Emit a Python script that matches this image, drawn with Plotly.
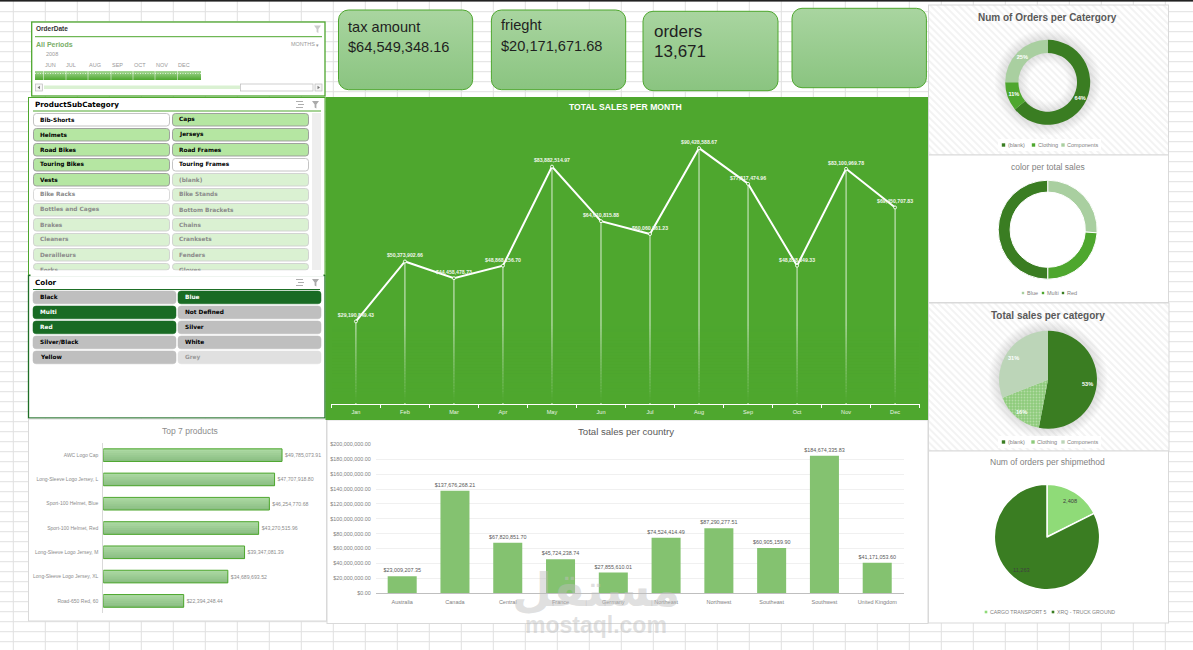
import base64
import plotly.graph_objects as go

W, H = 1193, 650

months = ["Jan","Feb","Mar","Apr","May","Jun","Jul","Aug","Sep","Oct","Nov","Dec"]
month_sales = [29190849.43,50373902.66,44458478.73,48868156.70,83882514.97,64610815.88,
               60060861.23,90428588.67,77817474.96,48858849.33,83100969.78,69450707.83]
products = ["AWC Logo Cap","Long-Sleeve Logo Jersey, L","Sport-100 Helmet, Blue","Sport-100 Helmet, Red",
            "Long-Sleeve Logo Jersey, M","Long-Sleeve Logo Jersey, XL","Road-650 Red, 60"]
product_sales = [49785073.91,47707918.80,46254770.68,43270515.96,39347081.39,34689693.52,22394248.44]
countries = ["Australia","Canada","Central","France","Germany","Northeast","Northwest","Southeast","Southwest","United Kingdom"]
country_sales = [23009207.35,137676268.21,67820851.70,45724238.74,27855610.01,74524414.49,87290277.51,60905159.90,184674335.83,41171053.60]
categories = ["(blank)","Clothing","Components"]
orders_by_cat = [64,11,25]
sales_by_cat = [53,16,31]
colors_names = ["Blue","Multi","Red"]
color_sales = [26,24,50]
ship_methods = ["CARGO TRANSPORT 5","XRQ - TRUCK GROUND"]
ship_orders = [2408,11263]
cards = [("tax amount","$64,549,348.16"),("frieght","$20,171,671.68"),("orders","13,671")]
subcats = ["Bib-Shorts","Caps","Helmets","Jerseys","Road Bikes","Road Frames","Touring Bikes","Touring Frames",
           "Vests","(blank)","Bike Racks","Bike Stands","Bottles and Cages","Bottom Brackets","Brakes","Chains",
           "Cleaners","Cranksets","Derailleurs","Fenders","Forks","Gloves"]
subcat_state = ["w","s","s","s","s","s","s","w","s","d","g","d","d","d","d","d","d","d","d","d","d","d"]
color_slicer = ["Black","Blue","Multi","Not Defined","Red","Silver","Silver/Black","White","Yellow","Grey"]
color_state = ["n","s","s","n","s","n","n","n","n","d"]
timeline_months = ["JUN","JUL","AUG","SEP","OCT","NOV","DEC"]

GREEN = "#4EA72E"; DARK = "#3A7D22"; PALE = "#A9CFA0"
def fx(x): return x / W
def fy(y): return 1 - y / H

# ------ backdrop: sheet grid, panels, gradient cards, hatching, shadows
grid = "".join(f"M{13.3+32*k} 0V{H}" for k in range(37)) + "".join(f"M0 {11.7+10*k}H{W}" for k in range(64))
def panel(x0,y0,x1,y1,fill="#fff",stroke="#D9D9D9",sw=1):
    return f'<rect x="{x0}" y="{y0}" width="{x1-x0}" height="{y1-y0}" fill="{fill}" stroke="{stroke}" stroke-width="{sw}"/>'
def halo(cx,cy,r0,r1,gid):
    rr_ = r1 + 11
    a, b = r0/rr_, r1/rr_
    inner = f'<stop offset="{max(a-0.2,0):.3f}" stop-color="#999" stop-opacity="0"/>' if r0 else '<stop offset="0" stop-color="#999" stop-opacity=".3"/>'
    return (f'<defs><radialGradient id="{gid}">{inner}<stop offset="{a:.3f}" stop-color="#999" stop-opacity=".3"/>'
            f'<stop offset="{b:.3f}" stop-color="#999" stop-opacity=".3"/><stop offset="1" stop-color="#999" stop-opacity="0"/></radialGradient></defs>'
            f'<circle cx="{cx}" cy="{cy}" r="{rr_}" fill="url(#{gid})"/>')
svg = [f'<svg xmlns="http://www.w3.org/2000/svg" width="{W}" height="{H}" viewBox="0 0 {W} {H}">',
       '<defs><linearGradient id="card" x1="0" y1="0" x2="0" y2="1"><stop offset="0" stop-color="#A9D5A0"/><stop offset="1" stop-color="#8AC480"/></linearGradient>',
       '<linearGradient id="tl" x1="0" y1="0" x2="0" y2="1"><stop offset="0" stop-color="#A5D795"/><stop offset="1" stop-color="#4EA72E"/></linearGradient>',
       '<pattern id="hatch" width="5" height="5" patternUnits="userSpaceOnUse" patternTransform="rotate(45)"><rect width="5" height="5" fill="#fff"/><rect width="5" height="2" fill="#F3F3F3"/></pattern></defs>',
       f'<rect width="{W}" height="{H}" fill="#fff"/>',
       f'<path d="{grid}" stroke="#E0E0E0" stroke-width="1" fill="none"/>',
       f'<rect width="{W}" height="1.6" fill="#222"/>']
svg.append(panel(31.7,22,325,96,stroke=GREEN,sw=1.3))
svg.append(panel(28.5,97.5,325,275,stroke=GREEN,sw=1))
svg.append(panel(28.5,275.5,325,418,stroke="#1E6F26",sw=1.3))
svg.append(panel(28.5,419,326.5,621))
svg.append(panel(327,420,928,623.5))
svg.append(f'<rect x="325.5" y="97" width="603" height="323" fill="{GREEN}"/>')
svg.append(panel(928.5,5,1168.5,155,fill="url(#hatch)"))
svg.append(panel(928.5,155,1168.5,302.5))
svg.append(panel(928.5,303,1169,451,fill="url(#hatch)"))
svg.append(panel(928.5,451,1168.5,623))
svg.append(halo(1047.7,82.3,29.5,42.5,"h1"))
svg.append(halo(1048,379.7,0,49,"h2"))
svg.append('<rect x="998" y="139" width="103" height="12" fill="#fff"/><rect x="998" y="436" width="103" height="12" fill="#fff"/>')
for (x0,y0,x1,y1) in [(338.5,10,472.7,89.7),(491.4,10,625.7,89.7),(643,11.3,778,90.7),(792,8.3,926.4,87.7)]:
    svg.append(f'<rect x="{x0}" y="{y0}" width="{x1-x0}" height="{y1-y0}" rx="10" fill="url(#card)" stroke="{GREEN}" stroke-width="1"/>')
# timeline header and bar
svg.append(f'<path d="M35 36.7H322" stroke="{GREEN}" stroke-width="1"/>')
svg.append('<rect x="35" y="71" width="166" height="9" fill="url(#tl)"/>')
svg.append('<path d="M35 73.5H201" stroke="#fff" stroke-width=".7" stroke-dasharray="1 1.5" fill="none"/>')
svg.append('<path d="M43.5 71V80M66 71V80M88 71V80M111 71V80M133 71V80M155 71V80M177.5 71V80" stroke="#fff" stroke-width=".5"/>')
svg.append('<rect x="44" y="85.5" width="196" height="3.5" fill="#DAF1D2"/>')
svg.append('<rect x="240.5" y="84" width="72.5" height="7" fill="#fff" stroke="#BBB" stroke-width=".7"/>')
svg.append('<rect x="35.5" y="84" width="7" height="7" fill="#F5F5F5" stroke="#BBB" stroke-width=".7"/><rect x="315" y="84" width="7" height="7" fill="#F5F5F5" stroke="#BBB" stroke-width=".7"/>')
svg.append('<path d="M40 85.8L37.5 87.5L40 89.2Z M317.5 85.8L320 87.5L317.5 89.2Z" fill="#777"/>')
# slicer header rules, scrollbar and header icons
svg.append(f'<path d="M33 111H321" stroke="{GREEN}" stroke-width="1"/><path d="M33 289.5H320" stroke="#1E6F26" stroke-width="1"/>')
svg.append('<rect x="312" y="113" width="9" height="157" fill="#EEE"/>')
for ty in (104.5, 282.5):
    svg.append(f'<path d="M296 {ty-3}h7M298 {ty}h6M296 {ty+3}h7" stroke="#999" stroke-width=".8" fill="none"/>')
    svg.append(f'<path d="M312 {ty-3.5}h7l-2.6 3.5v4l-1.8-1v-3Z" fill="#AAA"/>')
svg.append('<path d="M314 25.5h7l-2.6 3.5v4l-1.8-1v-3Z" fill="#CCC"/>')
svg.append('</svg>')
backdrop = "data:image/svg+xml;base64," + base64.b64encode("".join(svg).encode()).decode()

shapes, notes = [], []
def txt(x,y,s,size,color="#000",anchor="left",bold=False,font="Liberation Sans"):
    t = f"<b>{s}</b>" if bold else s
    notes.append(dict(xref="paper",yref="paper",x=fx(x),y=fy(y),text=t,showarrow=False,xanchor=anchor,yanchor="middle",
                      borderpad=0,font=dict(family=font,size=size,color=color)))
def rr(x0,y0,x1,y1,r,fill,line=None,lw=1,layer="below"):
    X0,X1,Y0,Y1,rx,ry = fx(x0),fx(x1),fy(y0),fy(y1),r/W,r/H
    p = (f"M{X0+rx} {Y0}L{X1-rx} {Y0}Q{X1} {Y0} {X1} {Y0-ry}L{X1} {Y1+ry}Q{X1} {Y1} {X1-rx} {Y1}"
         f"L{X0+rx} {Y1}Q{X0} {Y1} {X0} {Y1+ry}L{X0} {Y0-ry}Q{X0} {Y0} {X0+rx} {Y0}Z")
    shapes.append(dict(type="path",xref="paper",yref="paper",path=p,fillcolor=fill,layer=layer,
                       line=dict(color=line or fill,width=lw)))
def swatch(x,y,color,s=3.4):
    shapes.append(dict(type="rect",xref="paper",yref="paper",x0=fx(x-s/2),x1=fx(x+s/2),y0=fy(y+s/2),y1=fy(y-s/2),
                       fillcolor=color,line=dict(width=0),layer="above"))

# cards
tops = [(347,27,47,14.6),(500,25.5,45.5,14.6),(652.5,31,52,17)]
for (lab,val),(x,y1,y2,sz) in zip(cards,tops):
    txt(x,y1,lab,sz,"#1f1f1f"); txt(x,y2,val,sz,"#1f1f1f")

# timeline texts
txt(35,28,"OrderDate",6.5,"#333",bold=True)
txt(35,44,"All Periods",7,"#79AE68",bold=True)
txt(290,44,"MONTHS",5.5,"#999"); txt(315,44.5,"▾",5,"#999")
txt(45,54,"2008",5.5,"#999")
for m,x in zip(timeline_months,[50,71,95,117,140,162,184]):
    txt(x,65,m,5.5,"#999",anchor="center")

# ProductSubCategory slicer
SL = "DejaVu Sans"
txt(34,104.7,"ProductSubCategory",7.2,"#000",bold=True,font=SL)
style = {"s":("#B5E6A2","#999999","#000"),"w":("#FFFFFF","#BDBDBD","#000"),"g":("#FFFFFF","#D5D5D5","#8a8a8a"),"d":("#DAF1D2","#CFCFCF","#8a8a8a")}
for i,(name,st) in enumerate(zip(subcats,subcat_state)):
    col,row = i%2,i//2
    x0 = 33.5 if col==0 else 172.5
    y0 = 113.5+15*row
    f,l,c = style[st]
    rr(x0,y0,x0+136,min(y0+12.5,270),3,f,l,0.9)
    txt(x0+5.2,y0+6,name,5.8,c,bold=True,font=SL)
notes.append(dict(xref="paper",yref="paper",x=fx(30),y=fy(270.3),xanchor="left",yanchor="top",text=" ",showarrow=False,
                  width=292,height=4.6,bgcolor="#fff",borderpad=0,font=dict(size=1)))

# Color slicer
txt(34,282.7,"Color",7.2,"#000",bold=True,font=SL)
cstyle = {"n":("#BFBFBF","#000"),"s":("#196B24","#fff"),"d":("#E0E0E0","#999")}
for i,(name,st) in enumerate(zip(color_slicer,color_state)):
    col,row = i%2,i//2
    x0 = 33 if col==0 else 178
    y0 = 291+15*row
    f,c = cstyle[st]
    rr(x0,y0,x0+143,y0+12.8,3,f,f,0.5)
    txt(x0+5.7,y0+6.4,name,5.8,c,bold=True,font=SL)

# titles
txt(625,107.3,"TOTAL SALES PER MONTH",8.6,"#fff","center",True)
txt(189.6,431.3,"Top 7 products",8.5,"#8c8c8c","center")
txt(626.5,431.5,"Total sales per country",9.6,"#595959","center")
txt(1047.7,17,"Num of Orders per Catergory",10,"#595959","center",True)
txt(1047.7,166.7,"color per total sales",8.5,"#7f7f7f","center")
txt(1048,315.3,"Total sales per category",10,"#595959","center",True)
txt(1047,462,"Num of orders per shipmethod",8.5,"#7f7f7f","center")

# pie labels placed as in the workbook chart
for v,(x,y) in zip(sales_by_cat,[(1087.7,384),(1021.7,412),(1014,358)]):
    txt(x,y,f"{v}%",5.6,"#fff","center",True)
for v,(x,y) in zip(ship_orders,[(1070,501),(1021.7,570)]):
    txt(x,y,f"{v:,}",5.6,"#404040","center")

# manual small legends
LEG = "#7f7f7f"
for name,x,c in zip(categories,[1003.5,1033.5,1063],[DARK,GREEN,PALE]):
    swatch(x,145,c); txt(x+3,145,name,5.5,LEG)
for name,x,c in zip(categories,[1003.5,1033,1063],[DARK,"#8ECB7C","#BCD5B8"]):
    swatch(x,442,c); txt(x+3,442,name,5.5,LEG)
for name,x,c in zip(colors_names,[1023,1043,1063],[PALE,GREEN,DARK]):
    swatch(x,293,c,2.4); txt(x+2.5,293,name,5.5,LEG)
for name,x,c in zip(ship_methods,[986,1053],["#8FDB78",DARK]):
    swatch(x,612,c,2.6); txt(x+3,612,name,5.2,LEG)

# fade of the drop lines toward the axis
n = 26
for k in range(n):
    y0 = 326+k*(403-326)/n; y1 = 326+(k+1)*(403-326)/n
    shapes.append(dict(type="rect",xref="paper",yref="paper",x0=fx(332),x1=fx(919),y0=fy(y1),y1=fy(y0),
                       fillcolor=GREEN,opacity=min(1,(k+1)/n),line=dict(width=0),layer="above"))

fig = go.Figure()
# monthly line
fig.add_trace(go.Scatter(x=months,y=month_sales,mode="lines+markers+text",xaxis="x",yaxis="y",
    line=dict(color="#fff",width=2),marker=dict(color=GREEN,size=3,line=dict(color="#fff",width=0.9)),
    texttemplate="<b>%{y:$,.2f}</b>",textposition="top center",textfont=dict(family="Liberation Sans",size=5.2,color="#F0F6EC"),
    error_y=dict(type="data",symmetric=False,array=[0]*12,arrayminus=month_sales,color="#fff",thickness=0.8,width=0),
    cliponaxis=False,showlegend=False))
# top products: overlapping tints give the vertical gradient, then the outline with labels
BAND_W = 0.52
tints = ["#ABD8A2","#A5D39C","#9FCE96","#98C990","#92C48A","#8CBF84"]
for k,tint in enumerate(tints):
    start = k*BAND_W/len(tints)
    fig.add_trace(go.Bar(x=product_sales,y=products,orientation="h",xaxis="x2",yaxis="y2",width=BAND_W-start,
        offset=-BAND_W/2+start,marker=dict(color=tint,line=dict(width=0)),showlegend=False))
fig.add_trace(go.Bar(x=product_sales,y=products,orientation="h",xaxis="x2",yaxis="y2",width=BAND_W,offset=-BAND_W/2,
    marker=dict(color="rgba(0,0,0,0)",line=dict(color=GREEN,width=1)),texttemplate="%{x:$,.2f}",textposition="outside",constraintext="none",
    textfont=dict(family="Liberation Sans",size=5.2,color="#8c8c8c"),cliponaxis=False,showlegend=False))
# countries
fig.add_trace(go.Bar(x=countries,y=country_sales,xaxis="x3",yaxis="y3",marker=dict(color="#84C270",line=dict(width=0)),
    texttemplate="%{y:$,.2f}",textposition="outside",constraintext="none",textfont=dict(family="Liberation Sans",size=5.4,color="#595959"),
    cliponaxis=False,showlegend=False))
def dom(cx,cy,R):
    return dict(x=[fx(cx-R),fx(cx+R)],y=[fy(cy+R),fy(cy-R)])
white = dict(family="Liberation Sans",size=5.6,color="#fff")
fig.add_trace(go.Pie(labels=categories,values=orders_by_cat,hole=0.69,sort=False,direction="clockwise",rotation=0,domain=dom(1047.7,82.3,42.5),
    marker=dict(colors=[DARK,GREEN,PALE],line=dict(width=0)),textinfo="percent",texttemplate="<b>%{percent:.0%}</b>",textposition="inside",insidetextorientation="horizontal",
    insidetextfont=white,showlegend=False))
fig.add_trace(go.Pie(labels=colors_names,values=color_sales,hole=0.76,sort=False,direction="clockwise",rotation=0,domain=dom(1047.7,229.7,49.5),
    marker=dict(colors=[PALE,GREEN,DARK],line=dict(color="#fff",width=1)),textinfo="none",showlegend=False))
fig.add_trace(go.Pie(labels=categories,values=sales_by_cat,sort=False,direction="clockwise",rotation=0,domain=dom(1048,379.7,49),
    marker=dict(colors=[DARK,"#8ECB7C","#BCD5B8"],line=dict(width=0),
                pattern=dict(shape=["",".",""],bgcolor=[DARK,"#8ECB7C","#BCD5B8"],fgcolor="#B4DCA6",size=3,solidity=0.3)),
    textinfo="none",showlegend=False))
fig.add_trace(go.Pie(labels=ship_methods,values=ship_orders,sort=False,direction="clockwise",rotation=0,domain=dom(1047,537,52.7),
    marker=dict(colors=["#8FDB78",DARK],line=dict(color="#fff",width=1.5)),textinfo="none",showlegend=False))

# watermark
notes.append(dict(xref="paper",yref="paper",x=fx(596),y=fy(590),text="<b>مستقل</b>",showarrow=False,xanchor="center",yanchor="middle",
                  font=dict(family="DejaVu Sans",size=46,color="rgba(190,190,190,0.48)")))
notes.append(dict(xref="paper",yref="paper",x=fx(596),y=fy(625),text="<b>mostaql.com</b>",showarrow=False,xanchor="center",yanchor="middle",
                  font=dict(family="Liberation Sans",size=23,color="rgba(190,190,190,0.48)")))

tickfont = lambda s,c: dict(family="Liberation Sans",size=s,color=c)
fig.update_layout(
    width=W,height=H,margin=dict(l=0,r=0,t=0,b=0,pad=0,autoexpand=False),autosize=False,paper_bgcolor="#fff",plot_bgcolor="rgba(0,0,0,0)",
    barmode="overlay",bargap=0.45,showlegend=False,hovermode=False,
    images=[dict(source=backdrop,xref="paper",yref="paper",x=0,y=1,sizex=1,sizey=1,xanchor="left",yanchor="top",layer="below",sizing="stretch")],
    shapes=shapes,annotations=notes,
    xaxis=dict(domain=[fx(331.4),fx(919.6)],anchor="y",type="category",range=[-0.5,11.5],tickson="boundaries",ticks="outside",ticklen=2.5,tickwidth=1,ticklabelstandoff=2,
               tickcolor="#fff",showline=True,linecolor="#fff",linewidth=1,showgrid=False,zeroline=False,tickfont=dict(family="Liberation Sans",size=5.6,color="#EAF4E5")),
    yaxis=dict(domain=[fy(404),fy(121)],anchor="x",range=[0,100e6],visible=False,showgrid=False,zeroline=False),
    xaxis2=dict(domain=[fx(103.3),fx(318.7)],anchor="y2",range=[0,60e6],visible=False,showgrid=False,zeroline=False),
    yaxis2=dict(domain=[fy(613),fy(443)],anchor="x2",type="category",autorange="reversed",showline=True,linecolor="#D9D9D9",linewidth=1,ticks="",ticklabelstandoff=3,
                showgrid=False,tickfont=tickfont(5,"#8c8c8c")),
    xaxis3=dict(domain=[fx(375.8),fx(903.6)],anchor="y3",type="category",showline=True,linecolor="#BFBFBF",linewidth=1,ticks="",ticklabelstandoff=3,showgrid=False,tickfont=tickfont(5.5,"#7f7f7f")),
    yaxis3=dict(domain=[fy(593.3),fy(444.3)],anchor="x3",range=[0,200e6],dtick=20e6,tickformat="$,.2f",gridcolor="#F0F0F0",gridwidth=1,zeroline=False,ticklabelstandoff=4,
                showline=False,ticks="",tickfont=tickfont(5.4,"#7f7f7f")),
)
fig.write_html("out.html",config=dict(displayModeBar=False),
               post_script="document.body.style.margin='0';document.documentElement.style.overflow='hidden';")
